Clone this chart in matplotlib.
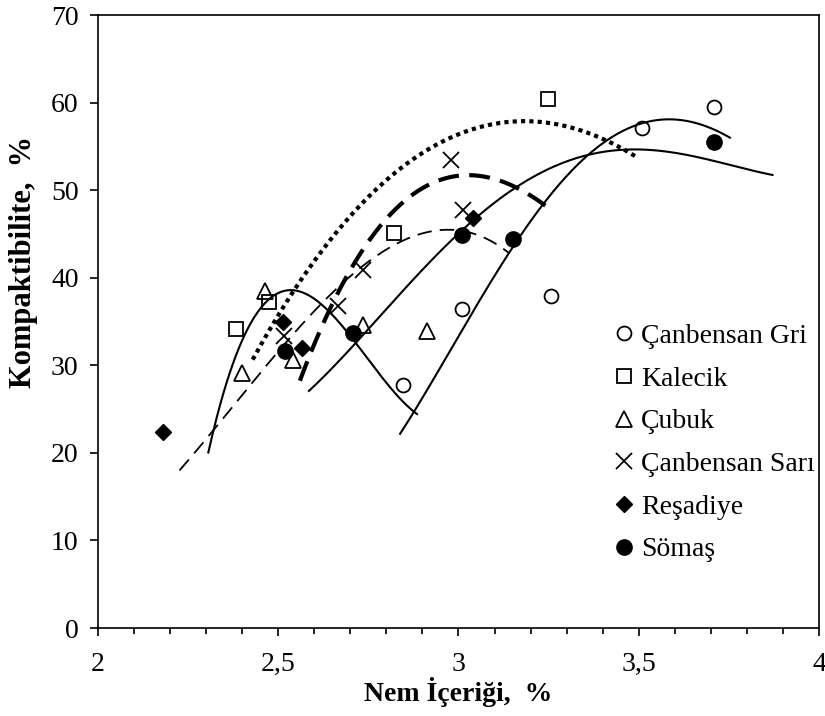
import numpy as np
import matplotlib.pyplot as plt
from matplotlib.ticker import MultipleLocator, FuncFormatter

plt.rcParams['font.family'] = ['Liberation Serif', 'DejaVu Serif']

# --------------------------------------------
# measured points (moisture %, compactibility %)
# --------------------------------------------
gri_x = [2.847, 3.009, 3.258, 3.508, 3.709]
gri_y = [27.7, 36.4, 37.9, 57.1, 59.5]

kalecik_x = [2.382, 2.475, 2.821, 3.247]
kalecik_y = [34.2, 37.2, 45.1, 60.4]

cubuk_x = [2.400, 2.462, 2.540, 2.734, 2.913]
cubuk_y = [29.1, 38.5, 30.6, 34.6, 33.9]

sari_x = [2.515, 2.667, 2.736, 2.978, 3.012]
sari_y = [33.3, 36.8, 40.9, 53.4, 47.7]

resadiye_x = [2.179, 2.512, 2.565, 3.040]
resadiye_y = [22.4, 34.9, 32.0, 46.8]

somas_x = [2.519, 2.708, 3.009, 3.150, 3.709]
somas_y = [31.6, 33.7, 44.9, 44.4, 55.5]

# --------------------------------------------
# trend lines, points taken along each curve
# --------------------------------------------
dot_x = [2.429, 2.616, 2.755, 2.893, 3.032, 3.115, 3.208, 3.300, 3.393, 3.496]
dot_y = [31.1, 41.3, 50.4, 54.6, 56.7, 57.6, 57.7, 57.3, 55.7, 54.0]

thick_x = [2.560, 2.600, 2.634, 2.671, 2.708, 2.773, 2.838, 2.903, 2.976, 3.050, 3.134, 3.208, 3.254]
thick_y = [28.6, 32.7, 35.1, 38.3, 40.9, 45.9, 48.9, 50.6, 51.3, 51.4, 50.6, 49.2, 48.0]

dash_x = [2.226, 2.385, 2.468, 2.652, 2.773, 2.856, 2.949, 3.060, 3.138]
dash_y = [18.0, 26.0, 29.8, 38.2, 42.8, 44.7, 45.3, 44.3, 43.2]

solid1_x = [2.306, 2.330, 2.366, 2.422, 2.486, 2.533, 2.616, 2.708, 2.736, 2.885]
solid1_y = [20.3, 23.7, 29.4, 34.8, 37.9, 38.3, 37.3, 33.7, 30.6, 24.5]

solid2_x = [2.585, 2.671, 2.736, 2.944, 3.009, 3.115, 3.226, 3.374, 3.466, 3.577, 3.716, 3.871]
solid2_y = [26.9, 30.6, 34.0, 42.6, 44.9, 49.1, 52.3, 54.3, 54.6, 54.3, 53.2, 51.8]

solid3_x = [2.838, 3.023, 3.152, 3.254, 3.300, 3.383, 3.485, 3.577, 3.670, 3.753]
solid3_y = [22.2, 34.8, 43.9, 48.9, 52.1, 54.6, 57.3, 58.2, 57.5, 56.0]


def trend(ax, xs, ys, deg, **kw):
    c = np.polyfit(xs, ys, deg)
    xx = np.linspace(min(xs), max(xs), 200)
    ax.plot(xx, np.polyval(c, xx), color='black', **kw)


fig = plt.figure(figsize=(8.25, 7.16), dpi=100)
ax = fig.add_axes([0.1188, 0.1229, 0.8739, 0.856])

trend(ax, dot_x, dot_y, 3, lw=3.0, linestyle=(0, (1.0, 1.0)))
trend(ax, thick_x, thick_y, 3, lw=3.0, linestyle=(0, (5, 2.5)))
trend(ax, dash_x, dash_y, 3, lw=1.3, linestyle=(0, (8, 4.5)))
trend(ax, solid1_x, solid1_y, 3, lw=1.5)
trend(ax, solid2_x, solid2_y, 4, lw=1.5)
trend(ax, solid3_x, solid3_y, 4, lw=1.5)

ms = 10
ax.plot(gri_x, gri_y, 'o', ms=ms, mfc='none', mec='black', mew=1.3, label='Çanbensan Gri')
ax.plot(kalecik_x, kalecik_y, 's', ms=ms, mfc='none', mec='black', mew=1.3, label='Kalecik')
ax.plot(cubuk_x, cubuk_y, '^', ms=ms + 1, mfc='none', mec='black', mew=1.3, label='Çubuk')
ax.plot(sari_x, sari_y, 'x', ms=ms + 1, mec='black', mew=1.3, label='Çanbensan Sarı')
ax.plot(resadiye_x, resadiye_y, 'D', ms=ms - 2, mfc='black', mec='black', label='Reşadiye')
ax.plot(somas_x, somas_y, 'o', ms=ms + 1, mfc='black', mec='black', label='Sömaş')

ax.set_xlim(2, 4)
ax.set_ylim(0, 70)
ax.xaxis.set_major_locator(MultipleLocator(0.5))
ax.xaxis.set_minor_locator(MultipleLocator(0.1))
ax.yaxis.set_major_locator(MultipleLocator(10))
ax.xaxis.set_major_formatter(FuncFormatter(lambda v, p: ('%g' % v).replace('.', ',')))

ax.tick_params(axis='both', which='major', direction='out', length=6, width=1.2,
               labelsize=20, top=False, right=False)
ax.tick_params(axis='x', which='major', pad=11)
ax.tick_params(axis='y', which='major', pad=8)
ax.tick_params(axis='x', which='minor', direction='out', length=4, width=1.2, top=False)
for s in ax.spines.values():
    s.set_linewidth(1.2)

ax.set_xlabel('Nem İçeriği,  %', fontsize=20, fontweight='bold', labelpad=0)
ax.set_ylabel('Kompaktibilite,  %', fontsize=22, fontweight='bold')
ax.yaxis.set_label_coords(-0.083, 0.597)

ax.legend(loc='upper left', bbox_to_anchor=(0.695, 0.515), borderaxespad=0,
          frameon=False, fontsize=20, handletextpad=0.1, handlelength=1.0,
          labelspacing=0.62)

fig.savefig('out.png', dpi=100)
